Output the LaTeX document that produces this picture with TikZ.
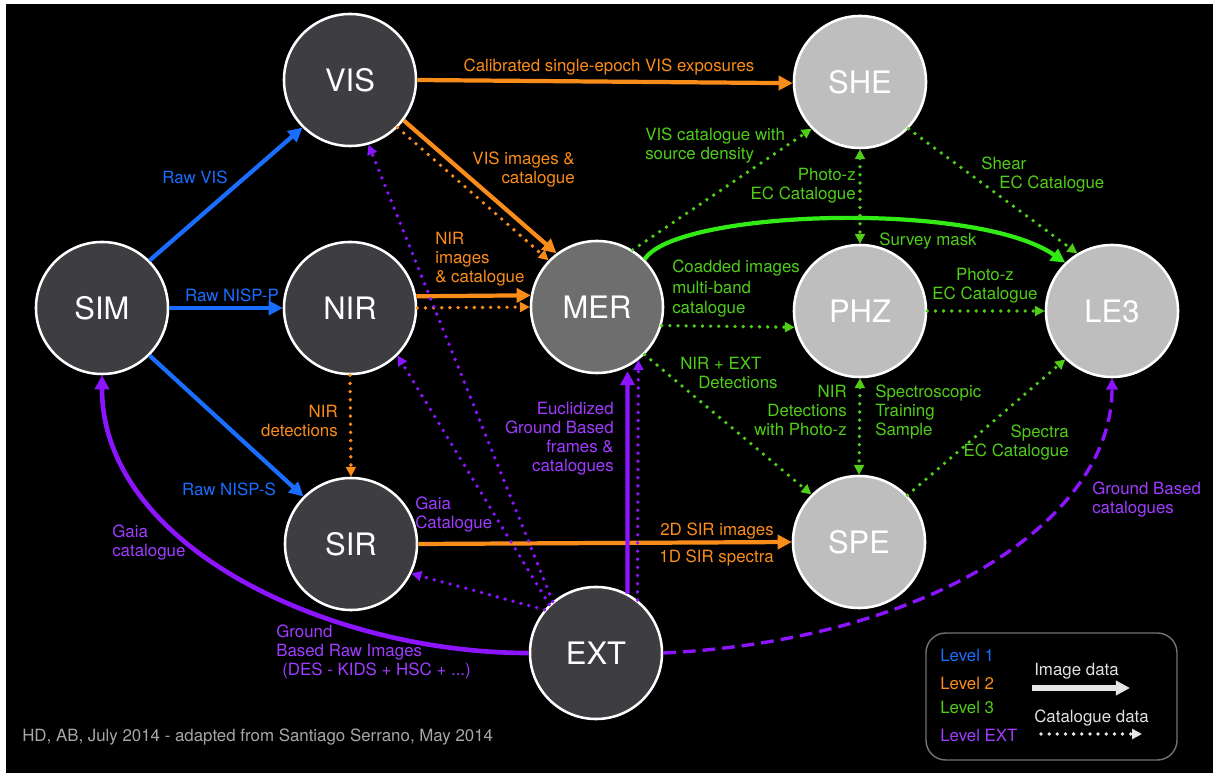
\documentclass[tikz,border=0pt]{standalone}
\usepackage{fontspec}
\setmainfont{TeX Gyre Heros}
\usepackage{xcolor}
\usepackage{tikz}
\usetikzlibrary{arrows.meta, positioning, calc}

\definecolor{levelone}{RGB}{25,110,255}
\definecolor{leveltwo}{RGB}{250,140,25}
\definecolor{levelthree}{RGB}{80,205,25}
\definecolor{maskgreen}{RGB}{50,235,20}
\definecolor{levelext}{RGB}{140,20,255}
\definecolor{extlabel}{RGB}{160,60,255}
\definecolor{darkpf}{RGB}{62,61,66}
\definecolor{merpf}{RGB}{110,110,110}
\definecolor{lightpf}{RGB}{190,190,190}

\begin{document}
\begin{tikzpicture}[
    x=0.025cm, y=-0.025cm,
    every node/.style={font=\fontsize{12}{13.5}\selectfont, inner sep=0pt},
    pf/.style={circle, draw=white, line width=1.8pt, minimum size=3.3cm,
               text=white, font=\fontsize{22}{26}\selectfont},
    pf-dark/.style={pf, fill=darkpf},
    pf-mer/.style={pf, fill=merpf},
    pf-light/.style={pf, fill=lightpf},
    img/.style={line width=3pt, -{Triangle[length=10pt, width=10pt]}},
    cat/.style={line width=2.7pt, line cap=round, dash pattern=on 0pt off 5.8pt,
                -{Triangle[length=7pt, width=7pt]}},
    cat2way/.style={cat, {Triangle[length=7pt, width=7pt]}-{Triangle[length=7pt, width=7pt]}},
    lbl/.style={align=left}
]

% --- frame ---
\fill[white] (0,0) rectangle (1213,773);
\fill[black] (6,4) rectangle (1213,773);

% --- processing functions ---
\node[pf-dark]  (SIM) at ( 102, 308) {SIM};
\node[pf-dark]  (VIS) at ( 350,  80) {VIS};
\node[pf-dark]  (NIR) at ( 350, 308) {NIR};
\node[pf-dark]  (SIR) at ( 351, 544) {SIR};
\node[pf-mer]   (MER) at ( 597, 307) {MER};
\node[pf-dark]  (EXT) at ( 596, 653) {EXT};
\node[pf-light] (SHE) at ( 860,  82) {SHE};
\node[pf-light] (PHZ) at ( 860, 311) {PHZ};
\node[pf-light] (SPE) at ( 859, 542) {SPE};
\node[pf-light] (LE3) at (1112, 311) {LE3};

% --- level 1 ---
\draw[img, levelone] (SIM.45) -- (VIS.225);
\draw[img, levelone] (SIM.0) -- (NIR.180);
\draw[img, levelone] (SIM.-45) -- (SIR.135);

\node[text=levelone] (lRawVis)   at (195, 177) {Raw VIS};
\node[text=levelone] (lRawNispP) at (232, 295) {Raw NISP-P};
\node[text=levelone] (lRawNispS) at (229, 489) {Raw NISP-S};

% --- level 2 ---
\draw[img, leveltwo] (VIS.0) -- (SHE.181);
\draw[img, leveltwo] (VIS.-37) -- (MER.127);
\draw[cat, leveltwo] (VIS.-45) -- (MER.136);
\draw[img, leveltwo] (NIR.10) -- (MER.170);
\draw[cat, leveltwo] (NIR.0) -- (MER.180);
\draw[cat, leveltwo] (NIR.270) -- (SIR.90);
\draw[img, leveltwo] (SIR.0) -- (SPE.180);

\node[text=leveltwo] (lCalib) at (609, 67) {Calibrated single-epoch VIS exposures};
\node[text=leveltwo, align=right, anchor=north east] (lVisImg) at (575, 152) {VIS images \&\\catalogue};
\node[text=leveltwo, lbl, anchor=north west] (lNirImg) at (435, 232) {NIR\\images\\\& catalogue};
\node[text=leveltwo, align=right, anchor=north east] (lNirDet) at (338, 405) {NIR\\detections};
\node[text=leveltwo, anchor=east] (l2d) at (774, 531) {2D SIR images};
\node[text=leveltwo, anchor=east] (l1d) at (774, 558) {1D SIR spectra};

% --- level 3 ---
\draw[cat, levelthree] (MER.58) -- (SHE.224);
\draw[img, maskgreen] (MER.45) .. controls (675,210) and (975,200) .. (LE3.134);
\draw[cat, levelthree] (MER.-16) -- (PHZ.194);
\draw[cat, levelthree] (MER.-45) -- (SPE.135);
\draw[cat2way, levelthree] (SHE.270) -- (PHZ.90);
\draw[cat, levelthree] (SHE.-44) -- (LE3.121);
\draw[cat, levelthree] (PHZ.0) -- (LE3.180);
\draw[cat2way, levelthree] (PHZ.270) -- (SPE.90);
\draw[cat, levelthree] (SPE.44) -- (LE3.226);

\node[text=levelthree, lbl, anchor=north west] (lVisCat) at (645, 128) {VIS catalogue with\\source density};
\node[text=levelthree, align=right, anchor=north east] (lPzShe) at (856, 168) {Photo-z\\EC Catalogue};
\node[text=levelthree, lbl, anchor=north west] (lShear) at (981, 157) {Shear\\\hspace*{0.45cm}EC Catalogue};
\node[text=levelthree] (lMask) at (928, 241) {Survey mask};
\node[text=levelthree, lbl, anchor=north west, font=\fontsize{12}{14.5}\selectfont] (lCoadd) at (672, 260) {Coadded images\\multi-band\\catalogue};
\node[text=levelthree, align=center, anchor=north] (lPzLe3) at (985, 268) {Photo-z\\EC Catalogue};
\node[text=levelthree, lbl, anchor=north west] (lNirExt) at (680, 357) {NIR + EXT\\\hspace*{0.45cm}Detections};
\node[text=levelthree, align=right, anchor=north east] (lNirPz) at (847, 385) {NIR\\Detections\\with Photo-z};
\node[text=levelthree, lbl, anchor=north west] (lSpecTrain) at (875, 385) {Spectroscopic\\Training\\Sample};
\node[text=levelthree, align=right, anchor=north east] (lSpectra) at (1069, 425) {Spectra\\EC Catalogue};

% --- level EXT ---
\draw[cat, levelext] (EXT.130) -- (VIS.-74);
\draw[cat, levelext] (EXT.134) -- (NIR.-45);
\draw[cat, levelext] (EXT.140) -- (SIR.-26);
\draw[img, levelext, shorten >=3pt] (EXT.62) -- (MER.-63);
\draw[cat, levelext] (EXT.52) -- (MER.-52);
\draw[img, levelext, line width=3.3pt] (EXT.180) .. controls (330,653) and (102,547) .. (SIM.270);
\draw[levelext, line width=2.4pt, dash pattern=on 9pt off 5pt, -{Triangle[length=8pt, width=8pt]}]
  (EXT.0) .. controls (930,640) and (1112,520) .. (LE3.270);

\node[text=extlabel, lbl, anchor=north west] (lGaiaSir) at (415, 497) {Gaia\\Catalogue};
\node[text=extlabel, lbl, anchor=north west] (lGaiaSim) at (112, 525) {Gaia\\catalogue};
\node[text=extlabel, lbl, anchor=north west] (lGround) at (276, 625) {Ground\\Based Raw Images\\\hspace*{0.15cm}(DES - KIDS + HSC + ...)};
\node[text=extlabel, align=right, anchor=north east] (lEuclid) at (614, 402) {Euclidized\\Ground Based\\frames \&\\catalogues};
\node[text=extlabel, lbl, anchor=north west] (lGbCat) at (1092, 482) {Ground Based\\catalogues};

% --- legend ---
\draw[draw=black!55, line width=1pt, rounded corners=14pt] (926,633) rectangle (1177,760);
\foreach \i/\y/\txt/\col in {1/655/Level 1/levelone, 2/683/Level 2/leveltwo,
                             3/707/Level 3/levelthree, 4/735/Level EXT/extlabel} {
    \node[anchor=west, text=\col] (lvl\i) at (940, \y) {\txt};
}
\node[anchor=west, text=black!12] (lImgData) at (1034, 671) {Image data};
\coordinate (imgA) at (1032, 688);
\coordinate (imgB) at (1130, 688);
\draw[img, black!10, line width=4pt] (imgA) -- (imgB);
\node[anchor=west, text=black!12] (lCatData) at (1034, 718) {Catalogue data};
\coordinate (catA) at (1041, 734);
\coordinate (catB) at (1142, 734);
\draw[cat, black!10] (catA) -- (catB);

% --- credit ---
\node[anchor=west, text=black!35] (credit) at (22, 737) {HD, AB, July 2014 - adapted from Santiago Serrano, May 2014};

\end{tikzpicture}
\end{document}
